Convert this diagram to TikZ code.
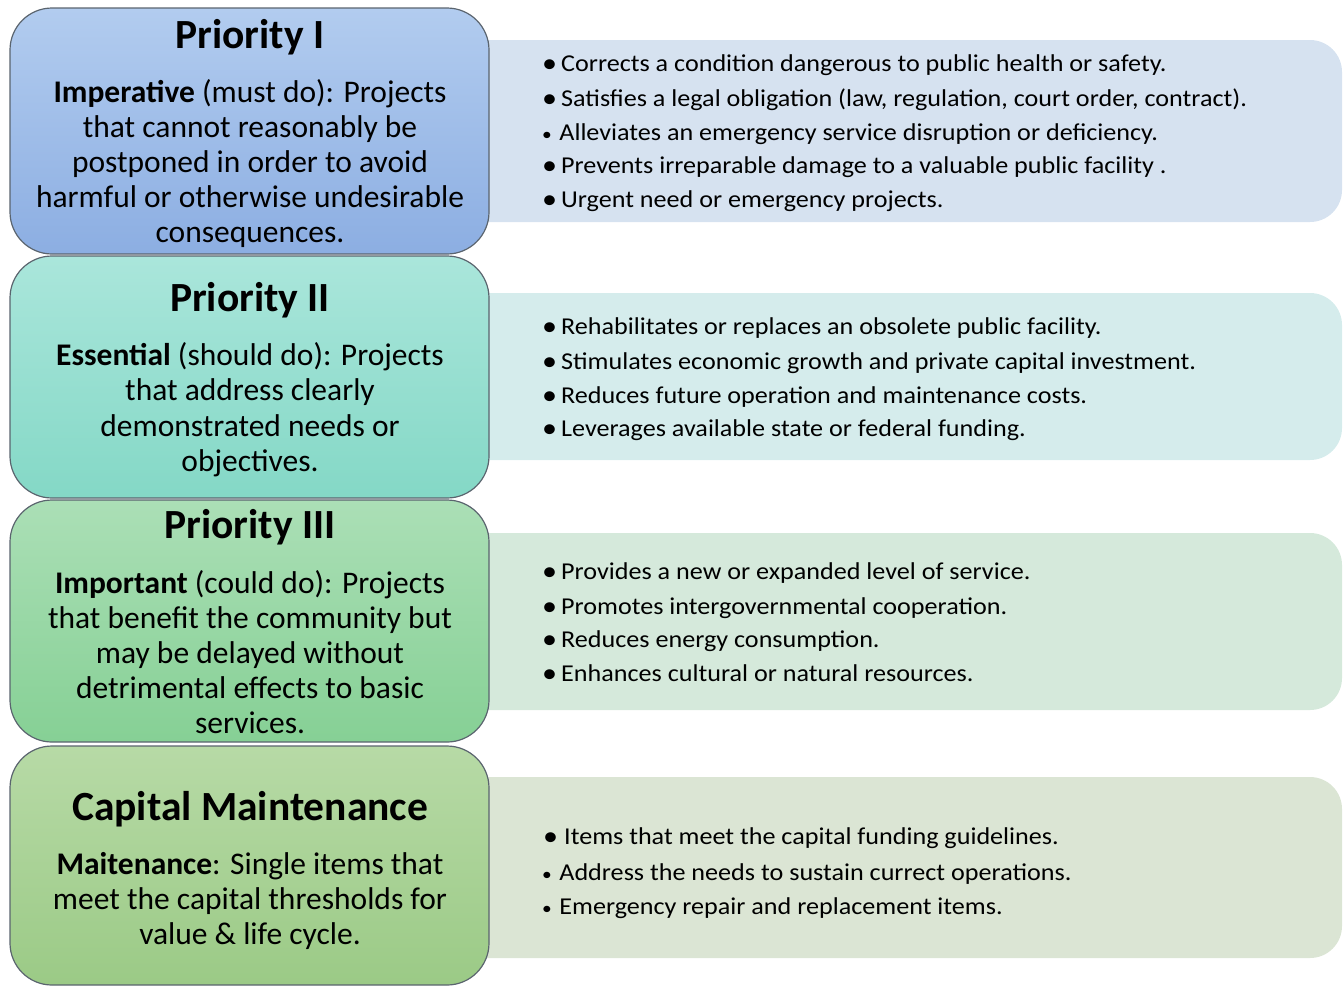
\documentclass[tikz,border=0pt]{standalone}
\usepackage{graphicx}
\usepackage{fontspec}
\setmainfont{Carlito}
\newfontfamily\itemfont{Carlito}[FakeStretch=1.08]
\definecolor{bAtop}{HTML}{B2CCEF}
\definecolor{bAbot}{HTML}{8CAEE2}
\definecolor{bBtop}{HTML}{AAE6DB}
\definecolor{bBbot}{HTML}{84D8C6}
\definecolor{bCtop}{HTML}{ABDFB6}
\definecolor{bCbot}{HTML}{86D095}
\definecolor{bDtop}{HTML}{B7DAA6}
\definecolor{bDbot}{HTML}{9BCA86}
\definecolor{pA}{HTML}{D6E2F0}
\definecolor{pB}{HTML}{D5ECEC}
\definecolor{pC}{HTML}{D5E9DB}
\definecolor{pD}{HTML}{DBE5D4}
\definecolor{edge}{HTML}{5A646E}
\tikzset{
  lbox/.style={draw=edge, line width=1.2pt, rounded corners=42pt},
  panel/.style={rounded corners=32pt},
  ttl/.style={anchor=base, inner sep=0pt, font=\fontsize{41.5}{46}\selectfont\bfseries},
  bdy/.style={anchor=base, inner sep=0pt, font=\fontsize{31.5}{36}\selectfont},
  itm/.style={anchor=base west, inner sep=0pt, font=\itemfont\fontsize{24.2}{28}\selectfont},
}
\newcommand{\bigb}{\raisebox{-1.2pt}{\scalebox{1.15}{\textbullet}}\hspace{4pt}}
\newcommand{\smlb}{{\fontsize{18}{18}\selectfont\textbullet}\hspace{7.5pt}}
\begin{document}
\begin{tikzpicture}[x=1pt, y=-1pt]
\useasboundingbox (0,0) rectangle (1343,986);
% right panels
\fill[pA, panel] (420,40) rectangle (1342,222);
\fill[pB, panel] (420,293) rectangle (1342,460);
\fill[pC, panel] (420,533) rectangle (1342,710);
\fill[pD, panel] (420,777) rectangle (1342,958);
% left boxes
\draw[lbox, top color=bAtop, bottom color=bAbot] (10,8) rectangle (489,254);
\draw[lbox, top color=bBtop, bottom color=bBbot] (10,256) rectangle (489,498);
\draw[lbox, top color=bCtop, bottom color=bCbot] (10,500) rectangle (489,742);
\draw[lbox, top color=bDtop, bottom color=bDbot] (10,746) rectangle (489,985);
% box 1 text
\node[ttl] (t1) at (250,48) {Priority I};
\node[bdy] (a1) at (250,102) {\textbf{Imperative} (must do): Projects};
\node[bdy] (a2) at (250,137) {that cannot reasonably be};
\node[bdy] (a3) at (250,172) {postponed in order to avoid};
\node[bdy] (a4) at (250,207) {harmful or otherwise undesirable};
\node[bdy] (a5) at (250,242) {consequences.};
% box 2 text
\node[ttl] (t2) at (250,311) {Priority II};
\node[bdy] (b1) at (250,365) {\textbf{Essential} (should do): Projects};
\node[bdy] (b2) at (250,400) {that address clearly};
\node[bdy] (b3) at (250,436) {demonstrated needs or};
\node[bdy] (b4) at (250,471) {objectives.};
% box 3 text
\node[ttl] (t3) at (250,538) {Priority III};
\node[bdy] (c1) at (250,593) {\textbf{Important} (could do): Projects};
\node[bdy] (c2) at (250,628) {that benefit the community but};
\node[bdy] (c3) at (250,663) {may be delayed without};
\node[bdy] (c4) at (250,698) {detrimental effects to basic};
\node[bdy] (c5) at (250,733) {services.};
% box 4 text
\node[ttl] (t4) at (250,820) {Capital Maintenance};
\node[bdy] (d1) at (250,874) {\textbf{Maitenance}: Single items that};
\node[bdy] (d2) at (250,909) {meet the capital thresholds for};
\node[bdy] (d3) at (250,944) {value \& life cycle.};
% panel 1 items
\node[itm] (p11) at (542,71) {\bigb Corrects a condition dangerous to public health or safety.};
\node[itm] (p12) at (542,106) {\bigb Satisfies a legal obligation (law, regulation, court order, contract).};
\node[itm] (p13) at (542,140) {\smlb Alleviates an emergency service disruption or deficiency.};
\node[itm] (p14) at (542,173) {\bigb Prevents irreparable damage to a valuable public facility .};
\node[itm] (p15) at (542,207) {\bigb Urgent need or emergency projects.};
% panel 2 items
\node[itm] (p21) at (542,334) {\bigb Rehabilitates or replaces an obsolete public facility.};
\node[itm] (p22) at (542,369) {\bigb Stimulates economic growth and private capital investment.};
\node[itm] (p23) at (542,403) {\bigb Reduces future operation and maintenance costs.};
\node[itm] (p24) at (542,436) {\bigb Leverages available state or federal funding.};
% panel 3 items
\node[itm] (p31) at (542,579) {\bigb Provides a new or expanded level of service.};
\node[itm] (p32) at (542,614) {\bigb Promotes intergovernmental cooperation.};
\node[itm] (p33) at (542,647) {\bigb Reduces energy consumption.};
\node[itm] (p34) at (542,681) {\bigb Enhances cultural or natural resources.};
% panel 4 items
\node[itm] (p41) at (543,844) {\bigb\hspace{2pt}Items that meet the capital funding guidelines.};
\node[itm] (p42) at (542,880) {\smlb Address the needs to sustain currect operations.};
\node[itm] (p43) at (542,914) {\smlb Emergency repair and replacement items.};
\end{tikzpicture}
\end{document}
